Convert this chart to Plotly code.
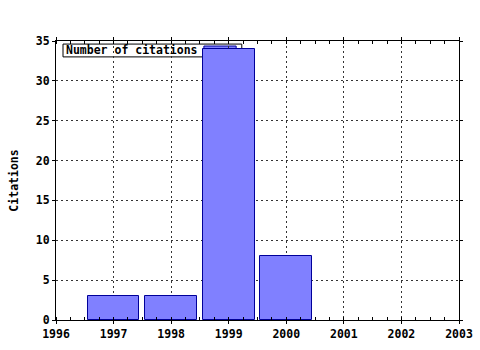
import plotly.graph_objects as go

years = [1997, 1998, 1999, 2000]
citations = [3, 3, 34, 8]
x_ticks = [1996, 1997, 1998, 1999, 2000, 2001, 2002, 2003]
y_ticks = [0, 5, 10, 15, 20, 25, 30, 35]
series_name = "Number of citations"

FONT = dict(family="DejaVu Sans Mono", size=11.5, color="black", weight="bold")

fig = go.Figure()
fig.add_trace(go.Bar(
    x=years, y=citations, width=0.9, name=series_name,
    marker=dict(color="#8080ff", line=dict(color="#000099", width=1)),
    showlegend=False,
))

# legend box (drawn beneath bars)
fig.add_shape(type="rect", xref="paper", yref="paper",
              x0=0.0174, x1=0.461, y0=0.943, y1=0.989,
              fillcolor="white", line=dict(color="black", width=1), layer="between")
fig.add_shape(type="rect", xref="paper", yref="paper",
              x0=0.367, x1=0.447, y0=0.95, y1=0.982,
              fillcolor="#8080ff", line=dict(color="#000099", width=1), layer="between")
fig.add_annotation(text=series_name, xref="paper", yref="paper",
                   x=0.0195, y=0.966, xanchor="left", yanchor="middle",
                   showarrow=False, font=FONT)

axis_common = dict(
    showline=True, linecolor="black", linewidth=1, mirror="allticks",
    showgrid=True, gridcolor="#333333", griddash="2px,3px", gridwidth=1,
    ticks="outside", ticklen=3, tickcolor="black", tickwidth=1,
    tickfont=FONT, zeroline=False, fixedrange=True, automargin=False,
)

fig.update_xaxes(range=[1996, 2003], tickvals=x_ticks, ticktext=[str(v) for v in x_ticks],
                 minor=dict(dtick=0.25, tick0=1996, ticks="inside", ticklen=3,
                            tickcolor="black", showgrid=False),
                 **axis_common)
fig.update_yaxes(range=[0, 35], tickvals=y_ticks, ticktext=[str(v) for v in y_ticks],
                 title=dict(text="Citations", font=FONT, standoff=14),
                 **axis_common)

fig.update_layout(
    width=480, height=350,
    margin=dict(l=56, r=21, t=41, b=30),
    plot_bgcolor="white", paper_bgcolor="white",
    bargap=0,
)

fig.write_html("out.html")
